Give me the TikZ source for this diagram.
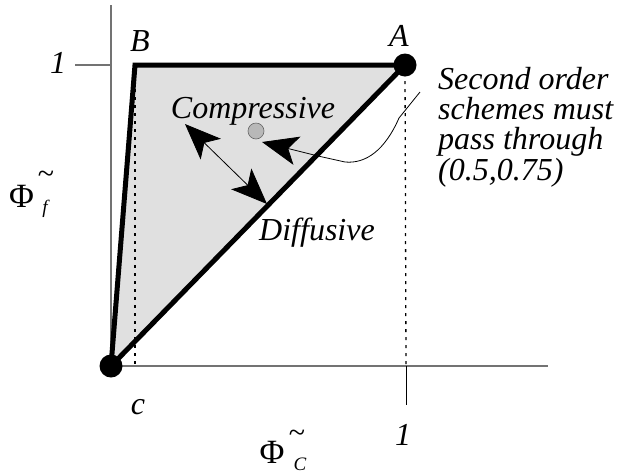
\documentclass[tikz,border=0pt]{standalone}
\usepackage{fontspec}
\setmainfont{Liberation Serif}
\usetikzlibrary{arrows.meta}
\tikzset{bigtip/.tip={Stealth[length=36pt,width=29pt,inset=9pt]}}
\begin{document}
\begin{tikzpicture}[x=1pt,y=-1pt,
  lbl/.style={font=\fontsize{32}{30}\selectfont\itshape, inner sep=0pt},
  phi/.style={font=\fontsize{34}{34}\selectfont, inner sep=0pt},
  small/.style={font=\fontsize{19}{19}\selectfont\itshape, inner sep=0pt},
  tld/.style={font=\fontsize{30}{30}\selectfont, inner sep=0pt},
  edge/.style={line width=5pt, line join=miter},
  axis/.style={draw=black!55, line width=1.5pt},
  guide/.style={line width=1.3pt, dash pattern=on 3pt off 5pt},
  dot/.style={circle, fill=black, minimum size=23pt, inner sep=0pt},
  bigarrow/.style={line width=0.8pt},
]
\useasboundingbox (0,0) rectangle (621,475);
\coordinate (O) at (111,366);
\coordinate (B) at (135,65);
\coordinate (A) at (405,65);
\coordinate (ytop) at (111,5);
\coordinate (xend) at (548,366);
\coordinate (yt1) at (75,65);
\coordinate (yt2) at (111,65);
\coordinate (xt1) at (406,366);
\coordinate (xt2) at (406,405);
\coordinate (Bb) at (135,366);
\coordinate (Ab) at (406,366);
% region
\fill[black!12] (O) -- (B) -- (A) -- cycle;
% axes
\draw[axis] (ytop) -- (O) -- (xend);
\draw[axis] (yt1) -- (yt2);
\draw[line width=1pt] (xt1) -- (xt2);
% guides
\draw[guide] (B) -- (Bb);
\draw[guide] (A) -- (Ab);
% edges
\draw[edge] (O) -- (B) -- (A) -- (O);
\node[dot] (dO) at (O) {};
\node[dot] (dA) at (A) {};
% point
\node[circle, fill=black!28, draw=black!60, line width=0.6pt, minimum size=16pt, inner sep=0pt] (P) at (256,131) {};
% arrows
\coordinate (c0) at (420,92);
\coordinate (c1) at (399,118);
\coordinate (c2) at (345,162);
\coordinate (c3) at (318,156);
\coordinate (ctip) at (262,142);
\draw[bigarrow, -{bigtip}] (c0) -- (c1) .. controls (385,150) and (366,164) .. (c2) -- (c3) -- (ctip);
\coordinate (d1) at (185,124);
\coordinate (d2) at (267,204);
\draw[bigarrow, {bigtip}-{bigtip}] (d1) -- (d2);
% labels
\node[lbl, anchor=base] (lB) at (140,51) {B};
\node[lbl, anchor=base] (lA) at (399,46) {A};
\node[lbl, anchor=base] (l1y) at (58,73) {1};
\node[lbl, anchor=base] (l1x) at (403,445) {1};
\node[lbl, anchor=base] (lc) at (138,414) {c};
\node[lbl, anchor=base] (lcomp) at (253,118) {Compressive};
\node[lbl, anchor=base] (ldiff) at (317,240) {Diffusive};
\node[lbl, anchor=base west] (s1) at (438,89) {Second order};
\node[lbl, anchor=base west] (s2) at (438,119) {schemes must};
\node[lbl, anchor=base west] (s3) at (438,149) {pass through};
\node[lbl, anchor=base west] (s4) at (438,180) {(0.5,0.75)};
% axis titles
\node[phi, anchor=base] (pf) at (21.5,207) {Φ};
\node[tld] (tf) at (46,177) {\textasciitilde};
\node[small, anchor=base] (sf) at (45,213) {f};
\node[phi, anchor=base] (pc) at (272,463) {Φ};
\node[tld] (tc) at (297,436) {\textasciitilde};
\node[small, anchor=base] (sc) at (300,470) {C};
\end{tikzpicture}
\end{document}
